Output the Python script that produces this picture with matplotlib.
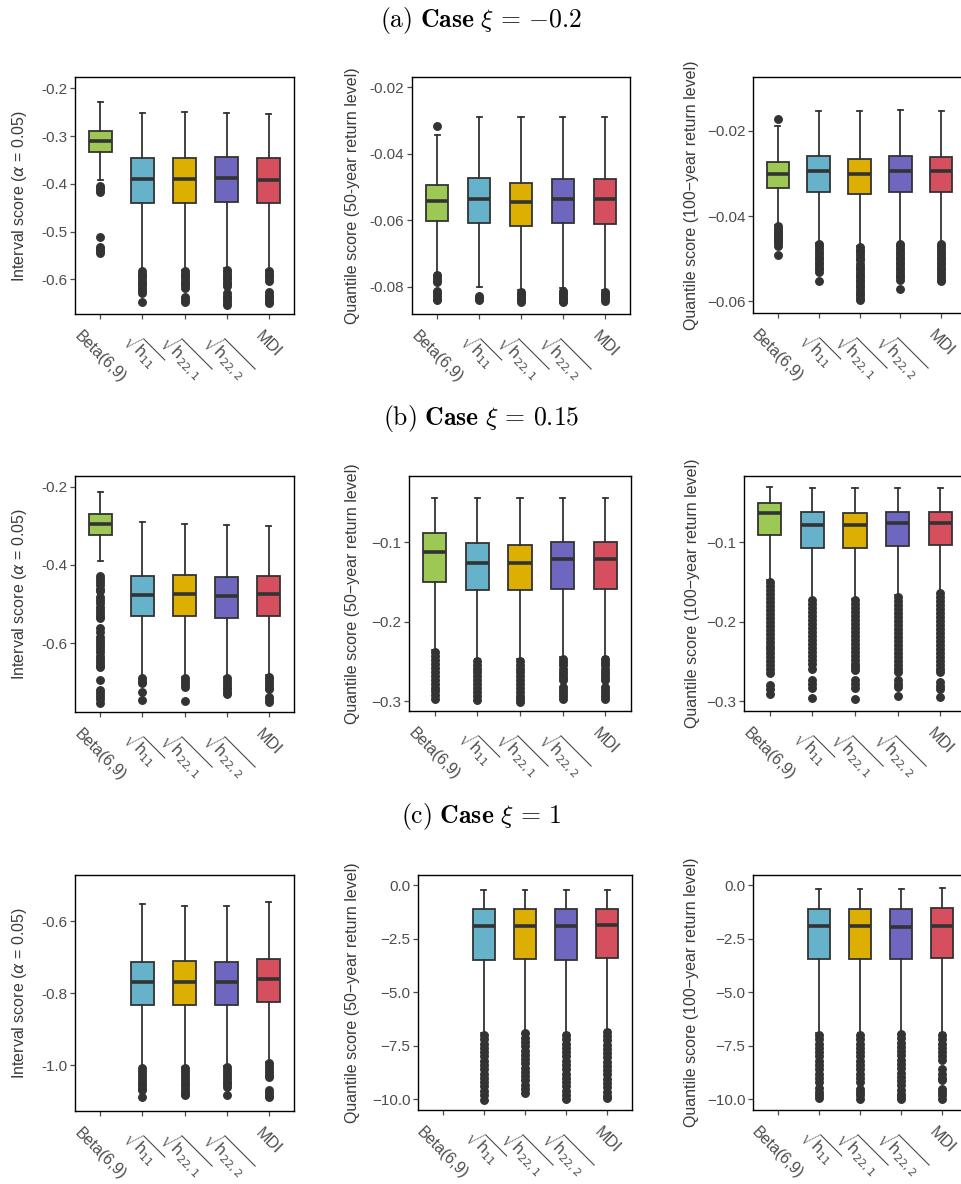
import matplotlib
matplotlib.use("Agg")
import matplotlib.pyplot as plt
from matplotlib.ticker import FixedLocator

plt.rcParams["font.family"] = ["Liberation Sans", "DejaVu Sans"]

W, H = 962, 1184

methods = ["Beta(6,9)", r"$\sqrt{\mathrm{h}_{11}}$", r"$\sqrt{\mathrm{h}_{22,1}}$",
           r"$\sqrt{\mathrm{h}_{22,2}}$", "MDI"]
colors = ["#9DC853", "#66B2CA", "#DDAF02", "#6F67BF", "#D54F5F"]

titles = [r"$\mathrm{(a)}\ \mathbf{Case}\ \xi\,=\,{-0.2}$",
          r"$\mathrm{(b)}\ \mathbf{Case}\ \xi\,=\,{0.15}$",
          r"$\mathrm{(c)}\ \mathbf{Case}\ \xi\,=\,{1}$"]

ylab_is = r"Interval score ($\alpha$ = 0.05)"
ylab_q50 = "Quantile score (50-year return level)"
ylab_q50m = "Quantile score (50\u2212year return level)"
ylab_q100 = "Quantile score (100\u2212year return level)"

# box statistics per method: [whisker low, q1, median, q3, whisker high]
# ---- case xi = -0.2 ----
a1_box = [[-0.391, -0.333, -0.310, -0.289, -0.228],
          [-0.580, -0.441, -0.390, -0.347, -0.251],
          [-0.580, -0.441, -0.390, -0.346, -0.249],
          [-0.577, -0.438, -0.388, -0.344, -0.251],
          [-0.580, -0.441, -0.393, -0.347, -0.254]]
a1_out = [[-0.404, -0.409, -0.413, -0.417, -0.512, -0.532, -0.537, -0.541, -0.545],
          [-0.583, -0.588, -0.593, -0.598, -0.603, -0.608, -0.613, -0.618, -0.623, -0.628, -0.648],
          [-0.583, -0.588, -0.593, -0.598, -0.603, -0.608, -0.613, -0.618, -0.638, -0.643, -0.647],
          [-0.580, -0.585, -0.590, -0.595, -0.600, -0.605, -0.610, -0.615, -0.629, -0.634,
           -0.639, -0.644, -0.649, -0.654],
          [-0.583, -0.588, -0.593, -0.598, -0.604, -0.627, -0.632, -0.637, -0.642, -0.647, -0.650]]

a2_box = [[-0.0760, -0.0603, -0.0543, -0.0494, -0.0343],
          [-0.0800, -0.0609, -0.0535, -0.0474, -0.0290],
          [-0.0810, -0.0617, -0.0544, -0.0487, -0.0290],
          [-0.0805, -0.0609, -0.0536, -0.0477, -0.0289],
          [-0.0810, -0.0611, -0.0536, -0.0477, -0.0290]]
a2_out = [[-0.0315, -0.0765, -0.0772, -0.0779, -0.0785, -0.0812, -0.0820, -0.0828, -0.0836, -0.0840],
          [-0.0829, -0.0835, -0.0841],
          [-0.0817, -0.0823, -0.0829, -0.0835, -0.0841, -0.0847],
          [-0.0812, -0.0818, -0.0824, -0.0830, -0.0836, -0.0842, -0.0847],
          [-0.0817, -0.0823, -0.0829, -0.0835, -0.0843]]

a3_box = [[-0.0420, -0.0334, -0.0301, -0.0273, -0.0188],
          [-0.0462, -0.0343, -0.0294, -0.0259, -0.0153],
          [-0.0470, -0.0348, -0.0301, -0.0265, -0.0153],
          [-0.0462, -0.0343, -0.0294, -0.0259, -0.0151],
          [-0.0462, -0.0344, -0.0294, -0.0261, -0.0153]]
a3_out = [[-0.0173, -0.0424, -0.0429, -0.0434, -0.0439, -0.0444, -0.0449, -0.0454, -0.0459,
           -0.0464, -0.0469, -0.0491],
          [-0.0465, -0.0471, -0.0477, -0.0483, -0.0489, -0.0495, -0.0501, -0.0507, -0.0513,
           -0.0519, -0.0525, -0.0530, -0.0551],
          [-0.0473, -0.0479, -0.0485, -0.0491, -0.0497, -0.0503, -0.0513, -0.0519, -0.0525,
           -0.0531, -0.0537, -0.0543, -0.0549, -0.0555, -0.0561, -0.0567, -0.0573, -0.0579,
           -0.0585, -0.0591, -0.0596],
          [-0.0465, -0.0471, -0.0477, -0.0483, -0.0489, -0.0495, -0.0501, -0.0507, -0.0513,
           -0.0519, -0.0525, -0.0531, -0.0537, -0.0543, -0.0549, -0.0571],
          [-0.0465, -0.0471, -0.0477, -0.0483, -0.0489, -0.0495, -0.0501, -0.0507, -0.0513,
           -0.0519, -0.0525, -0.0531, -0.0537, -0.0543, -0.0549, -0.0553]]

# ---- case xi = 0.15 ----
b1_box = [[-0.390, -0.323, -0.295, -0.270, -0.2145],
          [-0.685, -0.530, -0.477, -0.428, -0.291],
          [-0.685, -0.529, -0.474, -0.425, -0.295],
          [-0.685, -0.534, -0.478, -0.431, -0.298],
          [-0.681, -0.530, -0.474, -0.428, -0.2995]]
b1_out = [[-0.428, -0.436, -0.444, -0.452, -0.460, -0.466, -0.481, -0.489, -0.497, -0.506,
           -0.515, -0.523, -0.530, -0.536, -0.562, -0.570, -0.583, -0.591, -0.599, -0.607,
           -0.615, -0.623, -0.631, -0.639, -0.647, -0.655, -0.660, -0.694, -0.719, -0.727,
           -0.735, -0.743, -0.751],
          [-0.689, -0.696, -0.702, -0.723, -0.745],
          [-0.689, -0.696, -0.703, -0.710, -0.746],
          [-0.689, -0.696, -0.703, -0.710, -0.717, -0.724, -0.729],
          [-0.685, -0.692, -0.699, -0.706, -0.713, -0.717, -0.736, -0.743, -0.749]]

b2_box = [[-0.2360, -0.1497, -0.1122, -0.0878, -0.0436],
          [-0.2465, -0.1600, -0.1257, -0.1008, -0.0436],
          [-0.2465, -0.1606, -0.1265, -0.1034, -0.0436],
          [-0.2444, -0.1585, -0.1215, -0.0996, -0.0436],
          [-0.2444, -0.1585, -0.1215, -0.0996, -0.0436]]
b2_out = [[-0.238, -0.243, -0.248, -0.253, -0.258, -0.263, -0.268, -0.273, -0.278, -0.283,
           -0.288, -0.293, -0.297],
          [-0.249, -0.254, -0.259, -0.264, -0.269, -0.274, -0.279, -0.284, -0.289, -0.294, -0.299],
          [-0.249, -0.254, -0.259, -0.264, -0.269, -0.274, -0.279, -0.284, -0.289, -0.294,
           -0.298, -0.301],
          [-0.247, -0.251, -0.255, -0.259, -0.263, -0.267, -0.271, -0.274, -0.282, -0.286,
           -0.290, -0.294, -0.297],
          [-0.247, -0.251, -0.255, -0.259, -0.263, -0.267, -0.271, -0.274, -0.282, -0.286,
           -0.290, -0.294, -0.298]]

b3_box = [[-0.148, -0.0907, -0.0634, -0.0499, -0.0297],
          [-0.171, -0.1070, -0.0780, -0.0620, -0.0310],
          [-0.171, -0.1076, -0.0785, -0.0625, -0.0310],
          [-0.1665, -0.1040, -0.0760, -0.0610, -0.0310],
          [-0.162, -0.1034, -0.0760, -0.0617, -0.0310]]
b3_out = [[-0.150, -0.155, -0.160, -0.165, -0.170, -0.175, -0.180, -0.185, -0.190, -0.195,
           -0.200, -0.205, -0.210, -0.215, -0.220, -0.225, -0.230, -0.235, -0.240, -0.245,
           -0.250, -0.255, -0.260, -0.265, -0.280, -0.285, -0.291],
          [-0.173, -0.178, -0.183, -0.188, -0.193, -0.198, -0.203, -0.208, -0.213, -0.218,
           -0.223, -0.228, -0.233, -0.238, -0.243, -0.248, -0.253, -0.259, -0.274, -0.279,
           -0.284, -0.296],
          [-0.173, -0.178, -0.183, -0.188, -0.193, -0.198, -0.203, -0.208, -0.213, -0.218,
           -0.223, -0.228, -0.233, -0.238, -0.243, -0.248, -0.253, -0.257, -0.261, -0.274,
           -0.279, -0.284, -0.297],
          [-0.169, -0.174, -0.179, -0.184, -0.189, -0.194, -0.199, -0.204, -0.209, -0.214,
           -0.219, -0.224, -0.229, -0.234, -0.239, -0.244, -0.249, -0.254, -0.259, -0.263,
           -0.274, -0.278, -0.282, -0.294],
          [-0.164, -0.169, -0.174, -0.179, -0.184, -0.189, -0.194, -0.199, -0.204, -0.209,
           -0.214, -0.219, -0.224, -0.229, -0.234, -0.239, -0.244, -0.249, -0.254, -0.259,
           -0.263, -0.276, -0.281, -0.285, -0.295]]

# ---- case xi = 1 (no Beta(6,9) results) ----
c1_box = [None,
          [-1.006, -0.832, -0.769, -0.713, -0.551],
          [-1.006, -0.832, -0.769, -0.711, -0.558],
          [-1.002, -0.832, -0.768, -0.713, -0.558],
          [-0.992, -0.825, -0.761, -0.706, -0.547]]
c1_out = [[],
          [-1.009, -1.017, -1.025, -1.033, -1.041, -1.049, -1.057, -1.065, -1.070, -1.089],
          [-1.009, -1.017, -1.025, -1.033, -1.041, -1.049, -1.057, -1.065, -1.073, -1.080, -1.084],
          [-1.006, -1.014, -1.022, -1.030, -1.038, -1.046, -1.054, -1.061, -1.084],
          [-0.995, -1.003, -1.011, -1.019, -1.027, -1.033, -1.070, -1.078, -1.085, -1.089]]

c2_box = [None,
          [-6.92, -3.47, -1.91, -1.12, -0.20],
          [-6.84, -3.44, -1.91, -1.12, -0.20],
          [-6.92, -3.47, -1.91, -1.12, -0.20],
          [-6.77, -3.39, -1.87, -1.09, -0.20]]
c2_out = [[],
          [-7.00, -7.20, -7.40, -7.60, -7.80, -8.00, -8.20, -8.40, -8.60, -8.80, -9.00, -9.20,
           -9.40, -9.60, -9.80, -10.03],
          [-6.92, -7.12, -7.32, -7.52, -7.72, -7.92, -8.12, -8.32, -8.52, -8.72, -8.92, -9.12,
           -9.32, -9.52, -9.72],
          [-7.00, -7.20, -7.40, -7.60, -7.80, -8.00, -8.20, -8.40, -8.60, -8.80, -9.00, -9.20,
           -9.40, -9.60, -9.80, -10.00],
          [-6.84, -7.04, -7.24, -7.44, -7.64, -7.84, -8.04, -8.24, -8.44, -8.64, -8.84, -9.04,
           -9.24, -9.44, -9.64, -9.84, -9.95]]

c3_box = [None,
          [-6.92, -3.45, -1.91, -1.09, -0.16],
          [-6.92, -3.45, -1.91, -1.09, -0.16],
          [-6.92, -3.45, -1.93, -1.09, -0.16],
          [-6.92, -3.39, -1.88, -1.06, -0.13]]
c3_out = [[],
          [-7.00, -7.20, -7.40, -7.60, -7.80, -8.00, -8.20, -8.40, -8.60, -8.80, -9.00, -9.18,
           -9.49, -9.65, -9.80, -9.95],
          [-7.00, -7.20, -7.40, -7.60, -7.80, -8.00, -8.20, -8.40, -8.60, -8.80, -9.00, -9.20,
           -9.50, -9.66, -9.82, -9.98],
          [-6.95, -7.15, -7.35, -7.55, -7.75, -7.95, -8.15, -8.35, -8.55, -8.75, -8.95, -9.15,
           -9.35, -9.55, -9.75, -9.90, -10.00],
          [-7.00, -7.20, -7.40, -7.60, -7.80, -8.00, -8.16, -8.60, -8.80, -9.00, -9.10, -9.50,
           -9.66, -9.82, -9.98]]

# y ticks and their labels per panel
a1_ticks, a1_labels = [-0.2, -0.3, -0.4, -0.5, -0.6], ["-0.2", "-0.3", "-0.4", "-0.5", "-0.6"]
a2_ticks, a2_labels = [-0.02, -0.04, -0.06, -0.08], ["-0.02", "-0.04", "-0.06", "-0.08"]
a3_ticks, a3_labels = [-0.02, -0.04, -0.06], ["\u22120.02", "\u22120.04", "\u22120.06"]
b1_ticks, b1_labels = [-0.2, -0.4, -0.6], ["-0.2", "-0.4", "-0.6"]
b2_ticks, b2_labels = [-0.1, -0.2, -0.3], ["\u22120.1", "\u22120.2", "\u22120.3"]
b3_ticks, b3_labels = [-0.1, -0.2, -0.3], ["\u22120.1", "\u22120.2", "\u22120.3"]
c1_ticks, c1_labels = [-0.6, -0.8, -1.0], ["-0.6", "-0.8", "-1.0"]
c2_ticks = [0.0, -2.5, -5.0, -7.5, -10.0]
c2_labels = ["0.0", "\u22122.5", "\u22125.0", "\u22127.5", "\u221210.0"]
c3_ticks, c3_labels = c2_ticks, c2_labels

# panel layout in pixels: (left, top, right, bottom), y-limits, y-label centre x
panels = [
    (a1_box, a1_out, a1_ticks, a1_labels, ylab_is, (75, 77, 294, 314), (-0.6727, -0.1763), 20),
    (a2_box, a2_out, a2_ticks, a2_labels, ylab_q50, (412, 77, 630, 314), (-0.0882, -0.0169), 353),
    (a3_box, a3_out, a3_ticks, a3_labels, ylab_q100, (753, 77, 966, 313), (-0.0627, -0.0074), 692),
    (b1_box, b1_out, b1_ticks, b1_labels, ylab_is, (75, 476, 294, 712), (-0.775, -0.173), 20),
    (b2_box, b2_out, b2_ticks, b2_labels, ylab_q50m, (409, 476, 631, 711), (-0.3126, -0.0162), 353),
    (b3_box, b3_out, b3_ticks, b3_labels, ylab_q100, (744, 476, 966, 711), (-0.3126, -0.0162), 692),
    (c1_box, c1_out, c1_ticks, c1_labels, ylab_is, (75, 875, 294, 1111), (-1.128, -0.471), 20),
    (c2_box, c2_out, c2_ticks, c2_labels, ylab_q50m, (418, 875, 632, 1110), (-10.5, 0.48), 353),
    (c3_box, c3_out, c3_ticks, c3_labels, ylab_q100, (753, 875, 967, 1110), (-10.5, 0.48), 692),
]
title_y = [20, 418, 816]

DARK = "#333333"
TICKCOL = "#4D4D4D"

fig = plt.figure(figsize=(W / 100, H / 100), dpi=100)

for box, out, ticks, tlabels, ylab, (l, t, r, b), ylim, labx in panels:
    ax = fig.add_axes([l / W, 1 - b / H, (r - l) / W, (b - t) / H])
    stats, pos, cols = [], [], []
    for i, s in enumerate(box):
        if s is None:
            continue
        lo, q1, med, q3, hi = s
        stats.append(dict(whislo=lo, q1=q1, med=med, q3=q3, whishi=hi, fliers=out[i]))
        pos.append(i + 1)
        cols.append(colors[i])
    res = ax.bxp(stats, positions=pos, widths=0.54, patch_artist=True, capwidths=0.12,
                 boxprops=dict(edgecolor=DARK, linewidth=1.3),
                 medianprops=dict(color=DARK, linewidth=2.6, solid_capstyle="butt"),
                 whiskerprops=dict(color=DARK, linewidth=1.3),
                 capprops=dict(color=DARK, linewidth=1.3),
                 flierprops=dict(marker="o", markerfacecolor=DARK, markeredgecolor=DARK,
                                 markersize=5.4, linestyle="none"))
    for patch, c in zip(res["boxes"], cols):
        patch.set_facecolor(c)
    ax.set_xlim(0.4, 5.6)
    ax.set_ylim(*ylim)
    ax.yaxis.set_major_locator(FixedLocator(ticks))
    ax.set_yticklabels(tlabels)
    ax.set_xticks(range(1, 6))
    ax.set_xticklabels(methods, rotation=-45, ha="center", va="top", fontsize=11.5)
    ax.tick_params(axis="both", length=3.5, width=0.9, color=TICKCOL, labelcolor=TICKCOL,
                   labelsize=11, pad=2)
    ax.tick_params(axis="x", pad=7, labelsize=11.5)
    for sp in ax.spines.values():
        sp.set_linewidth(1.0)
        sp.set_color("black")
    ax.set_ylabel(ylab, fontsize=11.5, color="#3A3A3A")
    ax.yaxis.label.set_verticalalignment("center")
    ax.yaxis.set_label_coords((labx - l) / (r - l), 0.5)

for ttl, ty in zip(titles, title_y):
    fig.text(0.5, 1 - ty / H, ttl, ha="center", va="center", fontsize=18.5,
             math_fontfamily="cm")

fig.savefig("out.png", dpi=100)
